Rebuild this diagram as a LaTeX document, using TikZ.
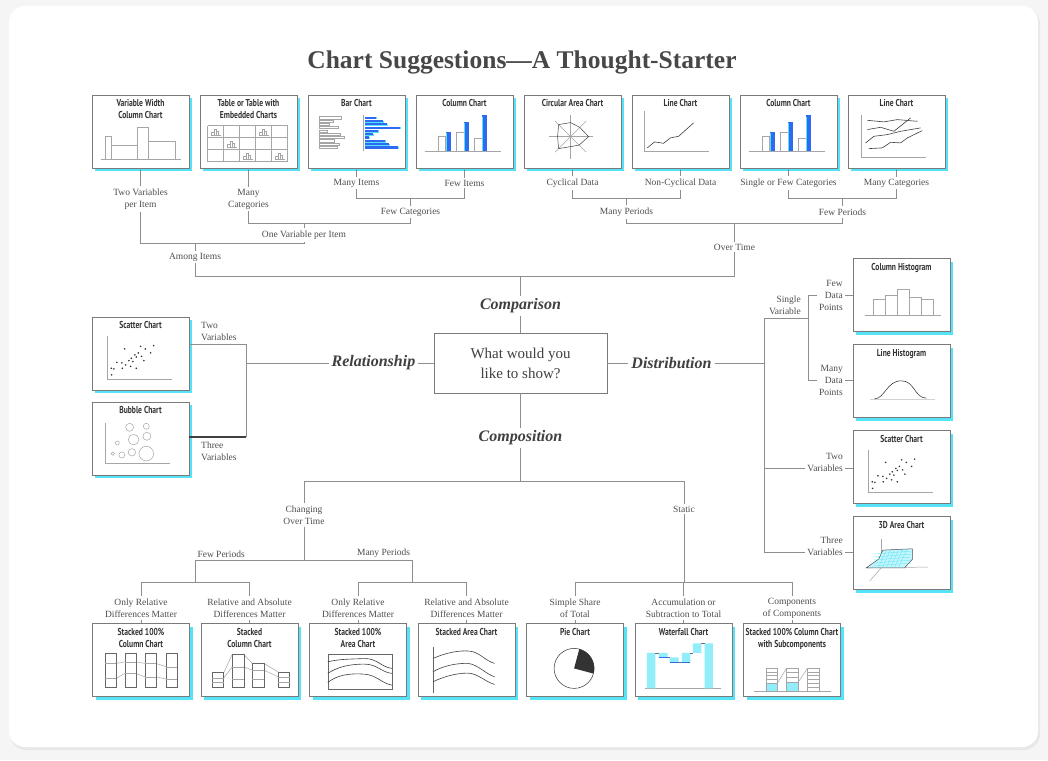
\documentclass[tikz,border=0pt]{standalone}
\usepackage{fontspec}
\setmainfont{Liberation Serif}
\newfontfamily\boxfont[FakeStretch=0.76]{PT Sans}
\usetikzlibrary{positioning,shadows}
\definecolor{linegray}{HTML}{8E8E8E}
\definecolor{boxgray}{HTML}{7A7A7A}
\definecolor{txtgray}{HTML}{4E4E4E}
\definecolor{shcyan}{HTML}{55E3F7}
\definecolor{barblue}{HTML}{2F6BF2}
\definecolor{cardbg}{HTML}{F5F5F5}

\newcommand{\colbars}{%
  \draw[mini] (9,56.7) -- (85,56.7);
  \foreach \a/\h/\b in {22.7/41.7/37.3,41/37.3/27.3,59/43.3/20.7}{
    \draw[mini,fill=white] (\a,56.7) rectangle (\a+7.3,\h);
    \fill[barblue] (\a+7.3,56.7) rectangle (\a+12.3,\b);
    \fill[shcyan] (\a+7.3,56.7) rectangle (\a+8.6,\b+1.5);}}
\newcommand{\scatdots}{%
  \draw[mini] (15.3,19.7) -- (15.3,62.3) -- (80.7,62.3);
  \foreach \px/\py in {33/32.3,49/29.7,62/29,53.7/32.3,46.7/36.3,43.3/38.3,59/36.3,
    39.7/41.7,44.7/40.3,50/39.7,52.3/44,37.3/44,41.3/45,30.3/46.3,25.3/45.7,
    34/48.3,30.7/51.7,39/49.7,44.7/51.7,19.7/51.7,22.3/52.3,20/58.3}
    \fill[black!80] (\px,\py) circle (0.9pt);}

\begin{document}
\begin{tikzpicture}[x=1pt, y=-1pt, on grid,
  link/.style={draw=linegray, line width=0.8pt},
  chart/.style={draw=boxgray, fill=white, line width=0.8pt,
    minimum width=97pt, minimum height=73pt, inner sep=0pt,
    drop shadow={shadow xshift=3pt, shadow yshift=-3pt, fill=shcyan, opacity=1}},
  ctitle/.style={anchor=north, yshift=-5pt, inner sep=0pt, align=center,
    font=\boxfont\bfseries\fontsize{10}{12}\selectfont, text=black!80},
  lbl/.style={font=\fontsize{9.5}{12}\selectfont, text=txtgray, align=center, inner sep=2pt},
  topic/.style={font=\bfseries\itshape\fontsize{16}{18}\selectfont, text=black!75, inner sep=3pt},
  mini/.style={draw=gray!70, line width=0.5pt},
  curve/.style={draw=black!75, line width=0.6pt}]

\useasboundingbox (0,0) rectangle (1048,760);
\fill[cardbg] (0,0) rectangle (1048,760);
\fill[black!9, rounded corners=16pt] (10,8) rectangle (1040,750);
\fill[white, rounded corners=16pt] (9,6) rectangle (1038,747);

\node[font=\bfseries\fontsize{25.5}{30}\selectfont, text=black!72] (title) at (522,62)
  {Chart Suggestions---A Thought-Starter};

\node[chart, label={[ctitle]north:{Variable Width\\Column Chart}}] (vw) at (140.5,131.5) {};
\node[chart, label={[ctitle]north:{Table or Table with\\Embedded Charts}}] (tbl) [right=108pt of vw] {};
\node[chart, label={[ctitle]north:{Bar Chart}}] (bar) [right=108pt of tbl] {};
\node[chart, label={[ctitle]north:{Column Chart}}] (colA) [right=108pt of bar] {};
\node[chart, label={[ctitle]north:{Circular Area Chart}}] (circ) [right=108pt of colA] {};
\node[chart, label={[ctitle]north:{Line Chart}}] (lineA) [right=108pt of circ] {};
\node[chart, label={[ctitle]north:{Column Chart}}] (colB) [right=108pt of lineA] {};
\node[chart, label={[ctitle]north:{Line Chart}}] (lineB) [right=108pt of colB] {};

\node[chart, label={[ctitle]north:{Scatter Chart}}] (scL) at (140.5,353.5) {};
\node[chart, label={[ctitle]north:{Bubble Chart}}] (bub) [below=85pt of scL] {};

\node[chart, label={[ctitle]north:{Column Histogram}}] (colH) at (901.5,295) {};
\node[chart, label={[ctitle]north:{Line Histogram}}] (lineH) [below=86pt of colH] {};
\node[chart, label={[ctitle]north:{Scatter Chart}}] (scR) [below=86pt of lineH] {};
\node[chart, label={[ctitle]north:{3D Area Chart}}] (area) [below=86pt of scR] {};

\node[chart, label={[ctitle]north:{Stacked 100\%\\Column Chart}}] (st100) at (141,660) {};
\node[chart, label={[ctitle]north:{Stacked\\Column Chart}}] (stcol) [right=108.5pt of st100] {};
\node[chart, label={[ctitle]north:{Stacked 100\%\\Area Chart}}] (st100a) [right=108.5pt of stcol] {};
\node[chart, label={[ctitle]north:{Stacked Area Chart}}] (starea) [right=108.5pt of st100a] {};
\node[chart, label={[ctitle]north:{Pie Chart}}] (pie) [right=108.5pt of starea] {};
\node[chart, label={[ctitle]north:{Waterfall Chart}}] (wfall) [right=108.5pt of pie] {};
\node[chart, label={[ctitle]north:{Stacked 100\% Column Chart\\with Subcomponents}}] (stsub) [right=108.5pt of wfall] {};

\node[draw=boxgray, line width=0.8pt, minimum width=173pt, minimum height=60pt,
  font=\fontsize{15}{20}\selectfont, text=black!75, align=center] (ask) at (520.5,363)
  {What would you\\like to show?};
\node[topic] (cmp) [above=57pt of ask] {Comparison};
\node[topic] (cps) [below=75pt of ask] {Composition};
\node[topic] (rel) [left=147pt of ask] {Relationship};
\node[topic] (dist) [right=151pt of ask] {Distribution};

\coordinate (h198) at (0,198);
\coordinate (h223) at (0,223);
\coordinate (h243) at (0,243);
\coordinate (h276) at (0,276);
\coordinate (h481) at (0,481);
\coordinate (h560) at (0,560);
\coordinate (h582) at (0,582);
\coordinate (v764) at (764,0);

\node[lbl] (twovar) [below=67.5pt of vw] {Two Variables\\per Item};
\node[lbl] (manycatA) [below=67.5pt of tbl] {Many\\Categories};
\node[lbl] (manyit) [below=51.5pt of bar] {Many Items};
\node[lbl] (fewit) [below=51.5pt of colA] {Few Items};
\node[lbl] (fewcat) at (410.5,212) {Few Categories};
\node[lbl] (onevar) at (304,235) {One Variable per Item};
\node[lbl] (among) at (195,257) {Among Items};
\node[lbl] (cyc) [below=51.5pt of circ] {Cyclical Data};
\node[lbl] (noncyc) [below=51.5pt of lineA] {Non-Cyclical Data};
\node[lbl] (single) [below=51.5pt of colB] {Single or Few Categories};
\node[lbl] (manycatB) [below=51.5pt of lineB] {Many Categories};
\node[lbl] (manyperA) at (626.5,212) {Many Periods};
\node[lbl] (fewperA) at (842.5,212) {Few Periods};
\node[lbl] (overtime) at (734.5,247) {Over Time};

\draw[link] (vw) -- (twovar);
\draw[link] (twovar.south) -- (twovar.south |- h243) -- (onevar.south |- h243) -- (onevar.south);
\draw[link] (onevar.north) -- (onevar.north |- h223);
\draw[link] (tbl) -- (manycatA);
\draw[link] (manycatA.south) -- (manycatA.south |- h223) -- (fewcat.south |- h223) -- (fewcat.south);
\draw[link] (bar) -- (manyit);
\draw[link] (colA) -- (fewit);
\draw[link] (manyit.south) -- (manyit.south |- h198) -- (fewit.south |- h198) -- (fewit.south);
\draw[link] (fewcat.north) -- (fewcat.north |- h198);
\draw[link] (among.north) -- (among.north |- h243);
\draw[link] (among.south) -- (among.south |- h276) -- (overtime.south |- h276) -- (overtime.south);
\draw[link] (circ) -- (cyc);
\draw[link] (lineA) -- (noncyc);
\draw[link] (cyc.south) -- (cyc.south |- h198) -- (noncyc.south |- h198) -- (noncyc.south);
\draw[link] (manyperA.north) -- (manyperA.north |- h198);
\draw[link] (colB) -- (single);
\draw[link] (lineB) -- (manycatB);
\draw[link] (single.south) -- (single.south |- h198) -- (manycatB.south |- h198) -- (manycatB.south);
\draw[link] (fewperA.north) -- (fewperA.north |- h198);
\draw[link] (manyperA.south) -- (manyperA.south |- h223) -- (fewperA.south |- h223) -- (fewperA.south);
\draw[link] (overtime.north) -- (overtime.north |- h223);

\draw[link] (cmp) -- (cmp |- h276);
\draw[link] (cmp) -- (ask);
\draw[link] (ask) -- (cps);
\draw[link] (cps) -- (cps |- h481);
\draw[link] (ask) -- (rel);
\draw[link] (ask) -- (dist);

\coordinate (jl1) at (246,344);
\coordinate (jl2) at (246,437);
\draw[link] (rel.west) -- (rel.west -| jl1);
\draw[link] (scL.east |- jl1) -- (jl1) -- (jl2);
\draw[draw=black!75, line width=1.6pt] (bub.east |- jl2) -- (jl2);
\node[lbl, align=left, anchor=south west] (twovarL) at (199,343) {Two\\Variables};
\node[lbl, align=left, anchor=north west] (threevarL) at (199,440) {Three\\Variables};

\coordinate (sv) at (764,318);
\coordinate (dp) at (808,318);
\coordinate (tv) at (764,468);
\coordinate (thv) at (764,552);
\draw[link] (dist.east) -- (dist.east -| v764);
\draw[link] (sv) -- (thv);
\draw[link] (sv) -- (dp);
\node[lbl, align=right, anchor=south east] (singlev) at (803,317) {Single\\Variable};
\node[lbl, align=right, anchor=east] (fewdp) at (845,295) {Few\\Data\\Points};
\node[lbl, align=right, anchor=east] (manydp) at (845,380) {Many\\Data\\Points};
\node[lbl, align=right, anchor=east] (twovarR) at (845,462) {Two\\Variables};
\node[lbl, align=right, anchor=east] (threevarR) at (845,546) {Three\\Variables};
\draw[link] (dp |- fewdp) -- (dp |- manydp);
\draw[link] (dp |- fewdp) -- (fewdp.west);
\draw[link] (fewdp.east) -- (colH.west |- fewdp);
\draw[link] (dp |- manydp) -- (manydp.west);
\draw[link] (manydp.east) -- (lineH.west |- manydp);
\draw[link] (tv) -- (twovarR.west |- tv);
\draw[link] (twovarR.east |- tv) -- (scR.west |- tv);
\draw[link] (thv) -- (threevarR.west |- thv);
\draw[link] (threevarR.east |- thv) -- (area.west |- thv);

\node[lbl] (chg) at (304,515) {Changing\\Over Time};
\node[lbl] (static) at (684,509) {Static};
\node[lbl] (onlyA) [above=52pt of st100] {Only Relative\\Differences Matter};
\node[lbl] (relA) [above=52pt of stcol] {Relative and Absolute\\Differences Matter};
\node[lbl] (onlyB) [above=52pt of st100a] {Only Relative\\Differences Matter};
\node[lbl] (relB) [above=52pt of starea] {Relative and Absolute\\Differences Matter};
\node[lbl] (simple) [above=52pt of pie] {Simple Share\\of Total};
\node[lbl] (accum) [above=52pt of wfall] {Accumulation or\\Subtraction to Total};
\node[lbl] (compo) [above=52pt of stsub] {Components\\of Components};
\coordinate (fp) at (195.3,560);
\coordinate (mp) at (412.3,560);
\node[lbl, anchor=south west] (fewperB) at (fp) {Few Periods};
\node[lbl, anchor=south east] (manyperB) at (mp) {Many Periods};

\draw[link] (chg.north) -- (chg.north |- h481) -- (static.north |- h481) -- (static.north);
\draw[link] (chg.south) -- (chg.south |- h560);
\draw[link] (fp) -- (mp);
\draw[link] (fp) -- (fp |- h582);
\draw[link] (mp) -- (mp |- h582);
\draw[link] (onlyA.north) -- (onlyA.north |- h582) -- (relA.north |- h582) -- (relA.north);
\draw[link] (onlyB.north) -- (onlyB.north |- h582) -- (relB.north |- h582) -- (relB.north);
\draw[link] (static.south) -- (static.south |- h582);
\draw[link] (simple.north) -- (simple.north |- h582) -- (compo.north |- h582) -- (compo.north);
\draw[link] (accum.north) -- (accum.north |- h582);
\foreach \l/\b in {onlyA/st100,relA/stcol,onlyB/st100a,relB/starea,simple/pie,accum/wfall,compo/stsub}
  \draw[link] (\l) -- (\b);

\begin{scope}[shift={(vw.north west)}]
  \draw[mini] (9,65) -- (89,65);
  \draw[mini] (14,65) rectangle (20,42) (20,65) rectangle (46,51)
    (46,65) rectangle (57,33) (57,65) rectangle (84,47);
\end{scope}

\begin{scope}[shift={(tbl.north west)}]
  \foreach \gx in {8,24,40,56,72,88} \draw[mini] (\gx,31) -- (\gx,67);
  \foreach \gy in {31,43,55,67} \draw[mini] (8,\gy) -- (88,\gy);
  \foreach \cx/\cy in {8/31,56/31,24/43,40/55,72/55}{
    \draw[mini] (\cx+3,\cy+10) -- (\cx+13,\cy+10);
    \draw[mini] (\cx+4,\cy+10) rectangle (\cx+6.5,\cy+7)
      (\cx+6.5,\cy+10) rectangle (\cx+9,\cy+3.5) (\cx+9,\cy+10) rectangle (\cx+11,\cy+6);}
\end{scope}

\begin{scope}[shift={(bar.north west)}]
  \foreach \i/\l in {0/22,1/14,2/10,3/19,4/8,5/21,6/25,7/15,8/20,9/18}
    \draw[mini] (12,{22+\i*3.3}) rectangle ({12+\l},{24.2+\i*3.3});
  \draw[mini] (56,20) -- (56,56);
  \foreach \i/\l in {0/11,1/18,2/22,3/35,4/13,5/8,6/4,7/20,8/24,9/33}{
    \fill[shcyan] (57,{22.6+\i*3.3}) rectangle ({58.5+\l},{24.8+\i*3.3});
    \fill[barblue] (57,{22+\i*3.3}) rectangle ({57+\l},{24.2+\i*3.3});}
\end{scope}

\begin{scope}[shift={(colA.north west)}]
  \colbars
\end{scope}

\begin{scope}[shift={(circ.north west)}]
  \begin{scope}[shift={(47,42)}]
    \foreach \a in {0,45,...,315} \draw[mini] (0,0) -- (\a:22);
    \draw[curve, line width=0.5pt] (0:18) -- (45:12) -- (90:10) -- (135:17) -- (180:13)
      -- (225:17) -- (270:14) -- (315:13) -- cycle;
  \end{scope}
\end{scope}

\begin{scope}[shift={(lineA.north west)}]
  \draw[mini] (12.7,16.7) -- (12.7,56.7) -- (77,56.7);
  \draw[curve] (15.7,53.3) -- (23,47.3) -- (32,48.7) -- (38.7,43.3) -- (47,41.7) -- (62,28.3);
\end{scope}

\begin{scope}[shift={(colB.north west)}]
  \colbars
\end{scope}

\begin{scope}[shift={(lineB.north west)}]
  \draw[mini] (14,20) -- (14,62.7) -- (78.7,62.7);
  \draw[curve] (19.7,25.7) -- (36.3,27.3) -- (49.7,25) -- (69.7,26.7);
  \draw[curve] (19.7,35) -- (33,32.7) -- (46.3,36.7) -- (63,23.3);
  \draw[curve] (18,48.3) -- (26.3,41.7) -- (39.7,40) -- (53,36.7) -- (73,33.3);
  \draw[curve] (21.3,54) -- (34.7,53.3) -- (43,47.7) -- (53,48.3) -- (59.7,43.3) -- (74.7,36);
\end{scope}

\begin{scope}[shift={(scL.north west)}]
  \scatdots
\end{scope}

\begin{scope}[shift={(scR.north west)}]
  \scatdots
\end{scope}

\begin{scope}[shift={(bub.north west)}]
  \draw[mini] (13.7,21.3) -- (13.7,62) -- (78.7,62);
  \foreach \cx/\cy/\r in {38/25.7/4,54.7/24.7/3,42/38/5.3,55.3/34.7/4,25.7/41.3/2,
    21.3/52/1.7,30.3/53.3/3,40.3/50.7/3.7,54.7/52/7.3}
    \draw[mini] (\cx,\cy) circle (\r pt);
\end{scope}

\begin{scope}[shift={(colH.north west)}]
  \draw[mini] (12,57.3) -- (88.7,57.3);
  \foreach \a/\h in {20.3/41.3,32.3/37,44.3/31.3,56.3/39.3,68.3/41.3}
    \draw[mini] (\a,57.3) rectangle (\a+12,\h);
\end{scope}

\begin{scope}[shift={(lineH.north west)}]
  \draw[draw=gray!35, line width=1pt] (17,55.7) -- (82,55.7);
  \draw[curve] (22,54.7) .. controls (32,54.7) and (34,36.7) .. (48.7,36.7)
    .. controls (62,36.7) and (62,54) .. (73.7,54);
\end{scope}

\begin{scope}[shift={(area.north west)}]
  \draw[mini] (28.7,23.3) -- (28.7,51.7);
  \draw[mini] (13.7,51.7) -- (75.3,51);
  \draw[mini] (28.7,51.7) -- (17,65);
  \filldraw[fill=shcyan!35, draw=black!70, line width=0.5pt] (13.7,51.7) -- (26,43)
    -- (30.3,34) -- (59.7,32.7) -- (59.7,43.3) -- (52,51.7) -- cycle;
  \foreach \t in {36,39,42,45,48}
    \draw[shcyan, line width=0.3pt] (20,\t+2) -- (58,\t-1);
  \foreach \s in {34,38,42,46,50,54}
    \draw[shcyan, line width=0.3pt] (\s,33.5) -- (\s-8,51);
\end{scope}

\begin{scope}[shift={(st100.north west)}]
  \draw[mini] (24,40.3) -- (32.7,38.7) (43.7,38.7) -- (52.7,40.3) (63.7,40.3) -- (74.3,43.7);
  \draw[mini] (24,55.3) -- (32.7,50.3) (43.7,50.3) -- (52.7,53.7) (63.7,53.7) -- (74.3,56);
  \foreach \a/\d/\e in {13/40.3/55.3,32.7/38.7/50.3,52.7/40.3/53.7,74.3/43.7/56}{
    \draw[draw=black!60, line width=0.6pt] (\a,30.3) rectangle (\a+11,64.3);
    \draw[mini] (\a,\d) -- (\a+11,\d) (\a,\e) -- (\a+11,\e);}
\end{scope}

\begin{scope}[shift={(stcol.north west)}]
  \draw[mini] (23.3,49.3) -- (31.7,31) (43,31) -- (51.7,40.3) (63.3,40.3) -- (77.3,48.7);
  \draw[mini] (23.3,54.7) -- (31.7,43.7) (43,43.7) -- (51.7,47) (63.3,47) -- (77.3,53.7);
  \foreach \a/\h/\d/\e in {11.3/49.3/54.7/59.3,31.7/31/43.7/56.3,51.7/40.3/47/56.3,77.3/48.7/53.7/58.7}{
    \draw[draw=black!60, line width=0.6pt] (\a,64.3) rectangle (\a+11.7,\h);
    \draw[mini] (\a,\d) -- (\a+11.7,\d) (\a,\e) -- (\a+11.7,\e);}
\end{scope}

\begin{scope}[shift={(st100a.north west)}]
  \draw[draw=black!60, line width=0.6pt] (18.7,31) rectangle (82.7,66);
  \draw[curve] (18.7,38.7) .. controls (30,36) and (40,36) .. (55,35.5)
    .. controls (68,35) and (72,44) .. (82.7,45.3);
  \draw[curve] (18.7,50.3) .. controls (28,44) and (40,41) .. (55,41)
    .. controls (68,41) and (72,49) .. (82.7,50.3);
  \draw[curve] (18.7,59.3) .. controls (28,52) and (40,50) .. (55,51)
    .. controls (68,52) and (72,60) .. (82.7,62);
\end{scope}

\begin{scope}[shift={(starea.north west)}]
  \draw[draw=black!60, line width=0.6pt] (15.3,23.7) -- (15.3,70.3);
  \draw[curve] (15.3,35.3) .. controls (28,30) and (40,27) .. (52,28)
    .. controls (62,29) and (68,38) .. (77,40.3);
  \draw[curve] (15.3,48.7) .. controls (25,43) and (38,40) .. (50,40.3)
    .. controls (60,41) and (68,51) .. (77,53.7);
  \draw[curve] (15.3,58.7) .. controls (25,54) and (38,50) .. (50,50)
    .. controls (60,50) and (68,59) .. (77,61.3);
\end{scope}

\begin{scope}[shift={(pie.north west)}]
  \draw[draw=black!80, line width=0.5pt] (48,45.3) circle (20pt);
  \fill[black!80] (48,45.3) -- plot[domain=-75:15, samples=24]
    ({48+20*cos(\x)},{45.3+20*sin(\x)}) -- cycle;
\end{scope}

\begin{scope}[shift={(wfall.north west)}]
  \draw[mini] (10.7,65.3) -- (86.7,65.3);
  \fill[shcyan!65] (12.3,29.7) rectangle (20.7,65.3) (24,29.7) rectangle (33,34.3)
    (35,34.3) rectangle (44,38.7) (47.3,29.7) rectangle (55.7,38.7)
    (58.3,20.3) rectangle (66.7,29.7) (70,20.3) rectangle (78.3,65.3);
  \draw[draw=black!55, line width=0.5pt] (20.7,29.7) -- (24,29.7) (33,34.3) -- (35,34.3)
    (44,38.7) -- (47.3,38.7) (55.7,29.7) -- (58.3,29.7) (66.7,20.3) -- (70,20.3);
  \draw[draw=barblue, line width=0.6pt] (24,34.3) -- (33,34.3) (35,38.7) -- (44,38.7)
    (47.3,38.7) -- (55.7,38.7);
\end{scope}

\begin{scope}[shift={(stsub.north west)}]
  \draw[mini] (11,68) -- (87.7,68);
  \fill[shcyan!65] (22.7,60) rectangle (34.3,68) (43.3,58.7) rectangle (55.3,68);
  \foreach \a in {22.7,43.3,64.3} \draw[mini] (\a,45.3) rectangle (\a+11.7,68);
  \foreach \d in {48.7,52,56,60} \draw[mini] (22.7,\d) -- (34.3,\d);
  \foreach \d in {48.7,53.7,58.7} \draw[mini] (43.3,\d) -- (55.3,\d);
  \foreach \d in {48.7,52,56.3,60.3,63.7} \draw[mini] (64.3,\d) -- (76,\d);
  \draw[mini] (34.3,60) -- (43.3,45.3) (55.3,58.7) -- (64.3,45.3);
\end{scope}

\end{tikzpicture}
\end{document}
